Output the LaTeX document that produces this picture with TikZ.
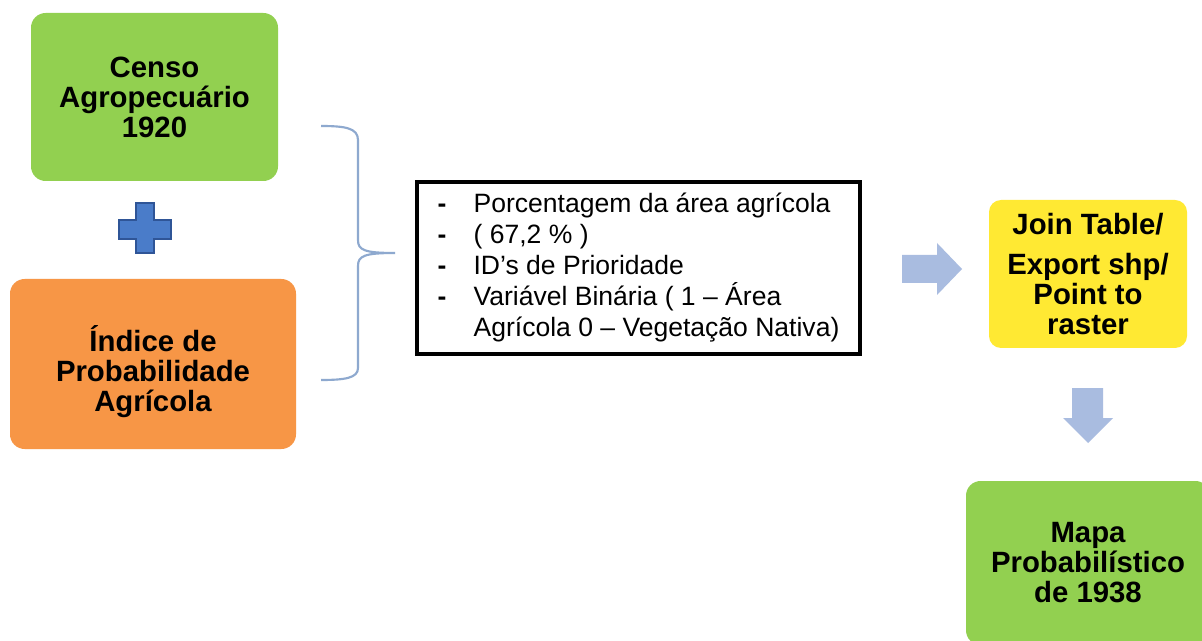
\documentclass[tikz,border=0pt]{standalone}
\usepackage{fontspec}
\setmainfont{Liberation Sans}
\definecolor{grn}{HTML}{92D050}
\definecolor{org}{HTML}{F79646}
\definecolor{ylw}{HTML}{FFE933}
\definecolor{pblue}{HTML}{4A7CC9}
\definecolor{pblued}{HTML}{2F5597}
\definecolor{arrowblue}{HTML}{A9BCE0}
\definecolor{bracec}{HTML}{8EA9CF}
\tikzset{
  card/.style={rounded corners=11pt, inner sep=0pt, align=center,
    font=\fontsize{22}{22.5}\selectfont\bfseries},
  listbox/.style={draw=black, line width=3pt, inner sep=0pt, align=left,
    minimum width=332.25pt, minimum height=129pt,
    font=\fontsize{19.9}{23.25}\selectfont},
  blockarrow/.style={fill=arrowblue, draw=none},
}
\newcommand{\dsh}{\makebox[27pt][l]{\textbf{-}}}
\begin{document}
\begin{tikzpicture}[x=0.75pt,y=-0.75pt]
\clip (0,0) rectangle (1202,641);
\fill[white] (0,0) rectangle (1202,641);
% boxes
\node[card, fill=grn, minimum width=185.25pt, minimum height=126pt] (censo) at (154.5,97) {Censo\\Agropecuário\\1920};
\node[card, fill=org, minimum width=214.5pt, minimum height=127.5pt] (indice) at (153,364) {\rule{0pt}{31pt}Índice de\\Probabilidade\\Agrícola};
\node[listbox] (lista) at (638.5,268) {\dsh Porcentagem da área agrícola\\
\dsh ( 67,2 \% )\\
\dsh ID’s de Prioridade\\
\dsh Variável Binária ( 1 – Área\\
\hspace*{27pt}Agrícola 0 – Vegetação Nativa)};
\node[card, rounded corners=9pt, fill=ylw, minimum width=148.5pt, minimum height=111pt] (join) at (1088,274) {Join Table/\\[8pt]Export shp/\\Point to\\raster};
\node[card, fill=grn, minimum width=183pt, minimum height=123pt] (mapa) at (1088,563) {Mapa\\Probabilístico\\de 1938};
% plus sign
\filldraw[fill=pblue, draw=pblued, line width=1pt]
  (136,203) -- (154,203) -- (154,220) -- (171,220) -- (171,239) -- (154,239)
  -- (154,253) -- (136,253) -- (136,239) -- (119,239) -- (119,220) -- (136,220) -- cycle;
% brace
\draw[bracec, line width=1.6pt]
  (321,126) .. controls (345,126) and (358,128) .. (358,140) -- (358,240)
  .. controls (358,250) and (364,253) .. (395,253)
  .. controls (364,253) and (358,256) .. (358,266) -- (358,368)
  .. controls (358,378) and (345,380) .. (321,380);
% block arrows
\fill[blockarrow] (902,255) -- (937,255) -- (937,243) -- (962,269) -- (937,295) -- (937,283) -- (902,283) -- cycle;
\fill[blockarrow] (1072,388) -- (1103,388) -- (1103,418) -- (1113,418) -- (1088,443) -- (1063,418) -- (1072,418) -- cycle;
\end{tikzpicture}
\end{document}
